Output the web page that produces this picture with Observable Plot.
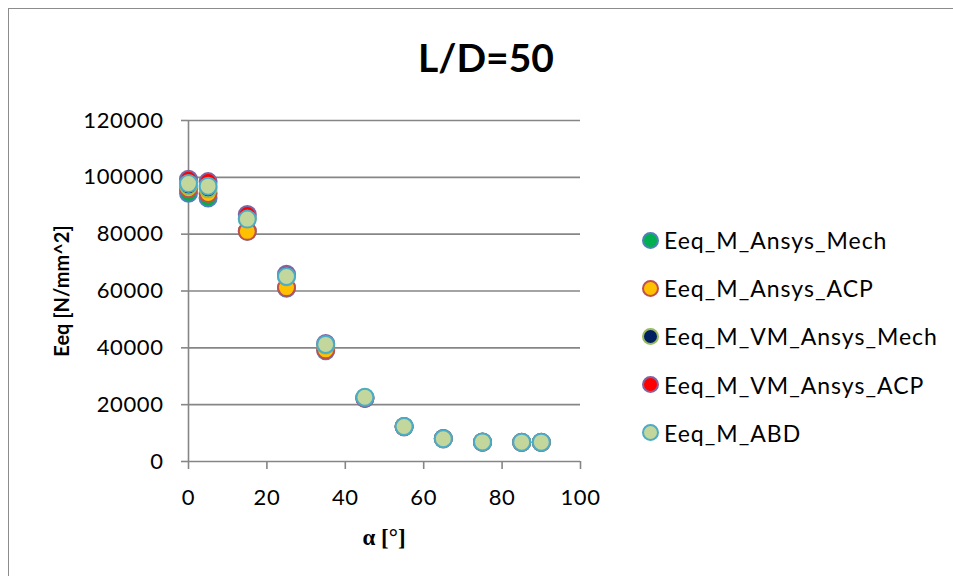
<!DOCTYPE html>
<html>
<head>
<meta charset="utf-8">
<script src="https://cdn.jsdelivr.net/npm/d3@7"></script>
<script src="https://cdn.jsdelivr.net/npm/@observablehq/plot@0.6"></script>
<style>
  html, body { margin: 0; padding: 0; background: white; overflow: hidden; width: 953px; height: 576px; }
  #wrap { position: relative; width: 953px; height: 576px; font-family: Lato, "Open Sans", sans-serif; }
  #border { position: absolute; left: 8px; top: 8px; width: 2000px; height: 2000px; border: 1.5px solid #8c8c8c; box-sizing: border-box; pointer-events: none; }
  #title { position: absolute; left: 0; width: 972px; top: 33px; text-align: center; font-weight: bold; font-size: 39px; line-height: 48px; }
  #ylabel { position: absolute; left: 61px; top: 291px; transform: translate(-50%, -50%) rotate(-90deg); font-weight: bold; font-size: 20px; white-space: nowrap; }
  #xlabel { position: absolute; left: 384px; top: 538px; transform: translate(-50%, -50%); font-family: "Liberation Serif", "DejaVu Serif", serif; font-weight: bold; font-size: 23px; white-space: nowrap; }
  #legend { position: absolute; left: 642px; top: 216px; font-size: 23px; letter-spacing: 1px; }
  .item { display: flex; align-items: center; height: 48.2px; }
  .sw { width: 13px; height: 13px; border-radius: 50%; border: 2px solid; margin-right: 5px; }
  svg { position: absolute; left: 0; top: 0; }
</style>
</head>
<body>
<div id="wrap">
  <div id="chart"></div>
  <div id="title">L/D=50</div>
  <div id="ylabel">Eeq [N/mm^2]</div>
  <div id="xlabel">α [°]</div>
  <div id="legend"></div>
  <div id="border"></div>
</div>
<script>
const alpha = [0, 5, 15, 25, 35, 45, 55, 65, 75, 85, 90];
const eqMAnsysMech   = [94400, 92700, 81000, 61000, 39000, 22300, 12200, 8000, 6800, 6700, 6700];
const eqMAnsysACP    = [96000, 94300, 81000, 61200, 39300, 22200, 12200, 8000, 6800, 6700, 6700];
const eqMVMAnsysMech = [97000, 96000, 85500, 65000, 41000, 22500, 12300, 8100, 6900, 6800, 6800];
const eqMVMAnsysACP  = [99300, 98500, 86900, 65900, 41500, 22300, 12300, 8100, 6900, 6800, 6800];
const eqMABD         = [97800, 96900, 85300, 65100, 41200, 22600, 12300, 8000, 6900, 6800, 6800];

const seriesNames = ["Eeq_M_Ansys_Mech", "Eeq_M_Ansys_ACP", "Eeq_M_VM_Ansys_Mech", "Eeq_M_VM_Ansys_ACP", "Eeq_M_ABD"];
const seriesValues = [eqMAnsysMech, eqMAnsysACP, eqMVMAnsysMech, eqMVMAnsysACP, eqMABD];
const fills = ["#00B050", "#FFC000", "#002060", "#FF0000", "#C3D69B"];
const strokes = ["#4F81BD", "#C0504D", "#9BBB59", "#8064A2", "#4BACC6"];

const xTicks = [0, 20, 40, 60, 80, 100];
const yTicks = [0, 20000, 40000, 60000, 80000, 100000, 120000];

const gray = "#868686";

const dotMarks = seriesValues.map((vals, i) =>
  Plot.dot(alpha.map((a, j) => ({a, v: vals[j]})), {
    x: "a", y: "v", r: 8.5, fill: fills[i], stroke: strokes[i], strokeWidth: 2, fillOpacity: 1
  })
);

const chart = Plot.plot({
  width: 953,
  height: 576,
  marginLeft: 188,
  marginRight: 373,
  marginTop: 120,
  marginBottom: 115,
  style: { fontFamily: "Lato, 'Open Sans', sans-serif", fontSize: "22px", background: "transparent", color: "black", letterSpacing: "0.6px" },
  x: { domain: [0, 100] },
  y: { domain: [0, 120000] },
  marks: [
    Plot.gridY(yTicks, { stroke: gray, strokeOpacity: 1, strokeWidth: 1.6 }),
    Plot.ruleX([0], { stroke: gray, strokeWidth: 1.6 }),
    Plot.axisY(yTicks, { tickSize: 7, tickPadding: 18, stroke: gray, strokeWidth: 1.6, fill: "black", fontSize: 22, tickFormat: d3.format("d"), label: null }),
    Plot.axisX(xTicks, { tickSize: 8, tickPadding: 20, stroke: gray, strokeWidth: 1.6, fill: "black", fontSize: 22, tickFormat: d3.format("d"), label: null }),
    ...dotMarks
  ]
});
document.getElementById("chart").appendChild(chart);

const legend = document.getElementById("legend");
seriesNames.forEach((name, i) => {
  const it = document.createElement("div");
  it.className = "item";
  const sw = document.createElement("div");
  sw.className = "sw";
  sw.style.background = fills[i];
  sw.style.borderColor = strokes[i];
  const t = document.createElement("span");
  t.textContent = name;
  it.appendChild(sw);
  it.appendChild(t);
  legend.appendChild(it);
});
</script>
</body>
</html>
